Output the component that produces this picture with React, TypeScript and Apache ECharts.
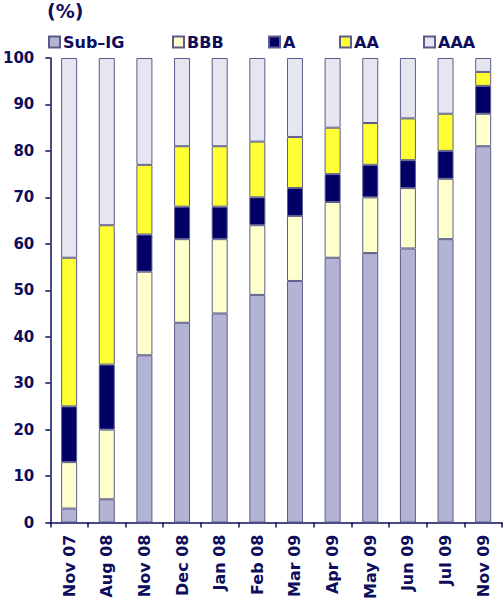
import React, { useEffect, useRef } from "react";
import * as echarts from "echarts";

const categories = ["Nov 07", "Aug 08", "Nov 08", "Dec 08", "Jan 08", "Feb 08", "Mar 09", "Apr 09", "May 09", "Jun 09", "Jul 09", "Nov 09"];
const subIG = [3, 5, 36, 43, 45, 49, 52, 57, 58, 59, 61, 81];
const bbb = [10, 15, 18, 18, 16, 15, 14, 12, 12, 13, 13, 7];
const a = [12, 14, 8, 7, 7, 6, 6, 6, 7, 6, 6, 6];
const aa = [32, 30, 15, 13, 13, 12, 11, 10, 9, 9, 8, 3];
const aaa = [43, 36, 23, 19, 19, 18, 17, 15, 14, 13, 12, 3];
const yTicks = [0, 10, 20, 30, 40, 50, 60, 70, 80, 90, 100];

const seriesNames = ["Sub–IG", "BBB", "A", "AA", "AAA"];
const seriesData = [subIG, bbb, a, aa, aaa];
const seriesColors = ["#b3b3d3", "#ffffcc", "#000066", "#ffff33", "#e6e6f0"];
const legendLefts = [48, 172, 268, 339, 423];

const NAVY = "#0d0d5c";
const FONT = "DejaVu Sans";

export default function App() {
  const ref = useRef<HTMLDivElement>(null);
  useEffect(() => {
    if (!ref.current) return;
    const chart = echarts.init(ref.current, undefined, { renderer: "svg" });
    chart.setOption({
      animation: false,
      title: {
        text: "(%)",
        left: 47,
        top: 1,
        padding: 0,
        textStyle: { color: NAVY, fontFamily: FONT, fontWeight: "bold", fontSize: 19 },
      },
      legend: seriesNames.map((n, i) => ({
        data: [n],
        left: legendLefts[i],
        top: 34,
        padding: 0,
        itemWidth: 11,
        itemHeight: 11,
        icon: "rect",
        textStyle: { color: NAVY, fontFamily: FONT, fontWeight: "bold", fontSize: 16, padding: [0, 0, 0, -2] },
      })),
      grid: { left: 50, right: 1, top: 58, bottom: 79 },
      xAxis: {
        type: "category",
        data: categories,
        axisLine: { lineStyle: { color: NAVY, width: 1.5 } },
        axisTick: { show: true, length: 5, lineStyle: { color: NAVY, width: 1.5 } },
        axisLabel: {
          rotate: 90,
          margin: 12,
          color: NAVY,
          fontFamily: FONT,
          fontWeight: "bold",
          fontSize: 16,
          interval: 0,
        },
      },
      yAxis: {
        type: "value",
        min: yTicks[0],
        max: yTicks[yTicks.length - 1],
        interval: 10,
        axisLine: { show: true, lineStyle: { color: NAVY, width: 1.5 } },
        axisTick: { show: true, length: 5, lineStyle: { color: NAVY, width: 1.5 } },
        splitLine: { show: false },
        axisLabel: {
          margin: 16,
          color: NAVY,
          fontFamily: FONT,
          fontWeight: "bold",
          fontSize: 15,
        },
      },
      series: seriesNames.map((n, i) => ({
        name: n,
        type: "bar",
        stack: "total",
        barWidth: 16,
        data: seriesData[i],
        itemStyle: { color: seriesColors[i], borderColor: "#5c5c8c", borderWidth: 1 },
      })),
    });
    return () => chart.dispose();
  }, []);
  return <div ref={ref} style={{ width: 503, height: 602, position: "absolute", left: 0, top: 0 }} />;
}
